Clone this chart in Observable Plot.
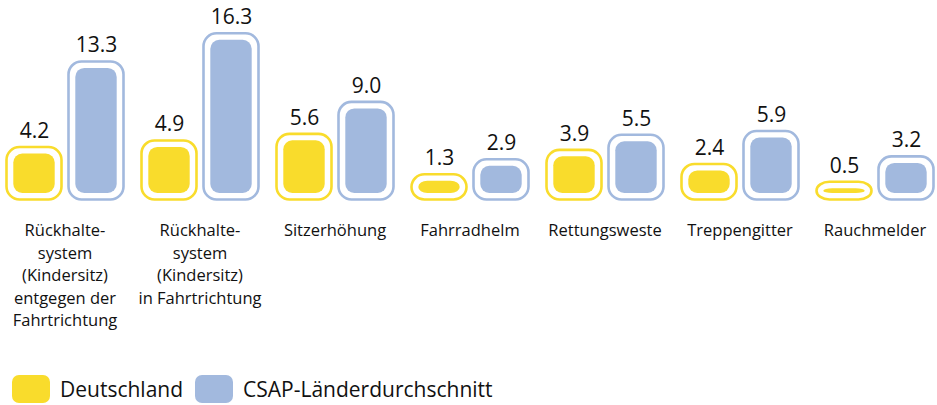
<!DOCTYPE html>
<html>
<head>
<meta charset="utf-8">
<script src="https://cdn.jsdelivr.net/npm/d3@7"></script>
<script src="https://cdn.jsdelivr.net/npm/@observablehq/plot@0.6"></script>
<style>
  html, body { margin: 0; padding: 0; background: #fff; }
  body { width: 937px; height: 405px; overflow: hidden; font-family: "Open Sans", sans-serif; }
  #legend { display: flex; align-items: center; height: 30px; margin-top: 24px; padding-left: 12px; font-size: 21px; color: #111; }
  .sw { width: 38px; height: 28px; border-radius: 7px; margin-right: 10px; }
  .item { display: flex; align-items: center; margin-right: 12px; }
</style>
</head>
<body>
<div id="chart"></div>
<div id="legend"></div>
<script>
const categories = [
  "Rückhalte-\nsystem\n(Kindersitz)\nentgegen der\nFahrtrichtung",
  "Rückhalte-\nsystem\n(Kindersitz)\nin Fahrtrichtung",
  "Sitzerhöhung",
  "Fahrradhelm",
  "Rettungsweste",
  "Treppengitter",
  "Rauchmelder"
];
const series = ["Deutschland", "CSAP-Länderdurchschnitt"];
const deutschland = [4.2, 4.9, 5.6, 1.3, 3.9, 2.4, 0.5];
const csap = [13.3, 16.3, 9.0, 2.9, 5.5, 5.9, 3.2];
const colors = ["#f9dc2c", "#a2b9de"];

const data = categories.flatMap((c, i) => [
  {cat: c, series: series[0], value: deutschland[i]},
  {cat: c, series: series[1], value: csap[i]}
]);

const chart = Plot.plot({
  width: 937,
  height: 350,
  marginLeft: -4,
  marginRight: -6,
  marginTop: 5,
  marginBottom: 157,
  style: {fontFamily: "'Open Sans', sans-serif", color: "#111", background: "#fff"},
  fx: {domain: categories, padding: 0, label: null},
  x: {domain: series, paddingInner: 0, paddingOuter: 0.08, axis: null},
  y: {domain: [0, 20], axis: null},
  color: {domain: series, range: colors},
  marks: [
    Plot.barY(data, {fx: "cat", x: "series", y: "value", fill: "series", insetLeft: 10.3, insetRight: 10.3, rx: 9}),
    Plot.barY(data, {fx: "cat", x: "series", y: "value", stroke: "series", fill: "none", strokeWidth: 2.6,
      insetLeft: 3.5, insetRight: 3.5, insetTop: -6.5, insetBottom: -6.5, rx: 13}),
    Plot.text(data, {fx: "cat", x: "series", y: "value", text: d => d.value.toFixed(1), dy: -23, fontSize: 21, fill: "#111"}),
    Plot.axisFx({anchor: "bottom", tickSize: 0, tickPadding: 27, fontSize: 16.5, lineHeight: 1.36, label: null, fill: "#111"})
  ]
});
document.getElementById("chart").appendChild(chart);

const legend = document.getElementById("legend");
series.forEach((s, i) => {
  const item = document.createElement("div");
  item.className = "item";
  const sw = document.createElement("div");
  sw.className = "sw";
  sw.style.background = colors[i];
  const label = document.createElement("span");
  label.textContent = s;
  item.appendChild(sw);
  item.appendChild(label);
  legend.appendChild(item);
});
</script>
</body>
</html>
